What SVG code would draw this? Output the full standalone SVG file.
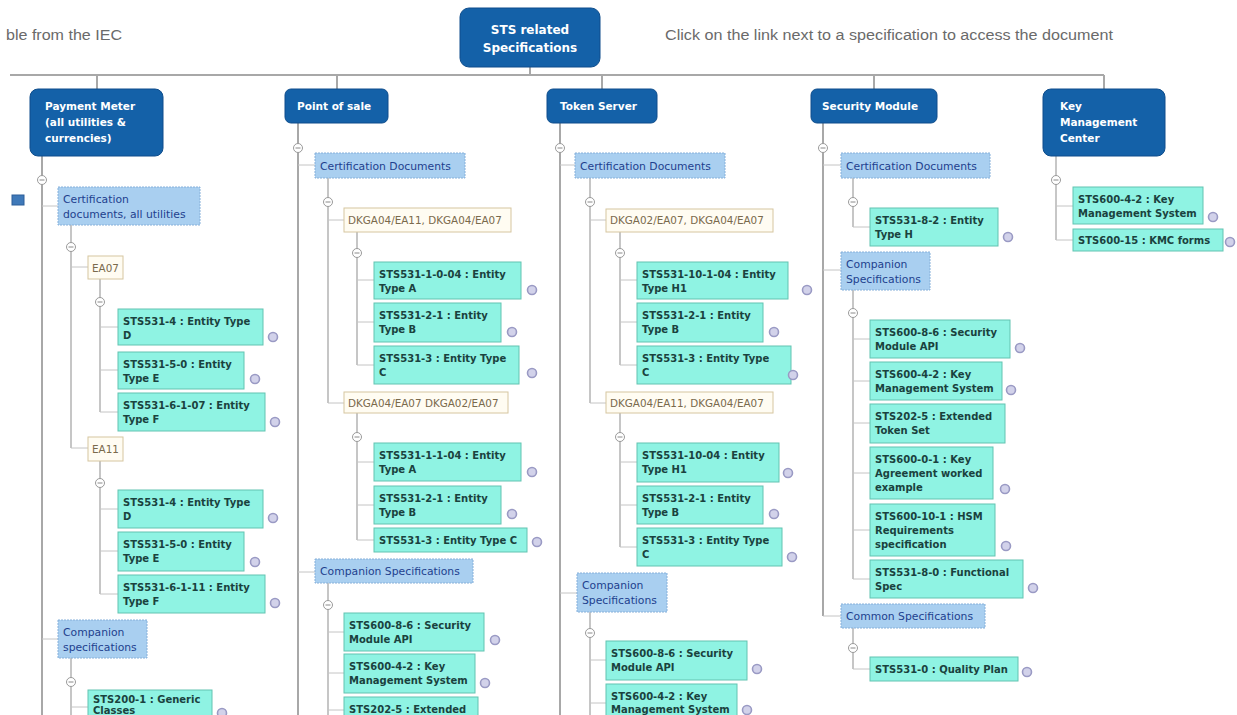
<svg xmlns="http://www.w3.org/2000/svg" width="1237" height="715" viewBox="0 0 1237 715">
<style>
text{font-family:"DejaVu Sans",Verdana,sans-serif}
.hdr{font-family:"Liberation Sans",Arial,sans-serif;font-size:14px;fill:#6a6a6a}
.top rect{fill:#1461a8;stroke:#0e4d8c;stroke-width:1}
.top text{fill:#fff;font-weight:bold;font-size:10.5px}
.cat rect{fill:#a9cff0;stroke:#86b0da;stroke-width:1;stroke-dasharray:2 1}
.cat text{fill:#1e3f8e;font-size:10.8px}
.grp rect{fill:#fffcf2;stroke:#d6c6a0;stroke-width:1}
.grp text{fill:#7a6a4c;font-size:10.4px}
.itm rect{fill:#8ff3e3;stroke:#63c3b1;stroke-width:1}
.itm text{fill:#1a423e;font-weight:bold;font-size:10px}
.lnk{fill:#d2d2ea;stroke:#9a9ac4;stroke-width:1.6}
.tog{fill:#fff;stroke:#9a9a9a;stroke-width:1}
.togl{stroke:#8a8a8a;stroke-width:1}
.main{stroke:#a8a8a8;stroke-width:2;fill:none}
.sub{stroke:#b4b4b4;stroke-width:1.5;fill:none}
.tick{stroke:#c4c4c4;stroke-width:1;fill:none}
</style>
<defs>
<g id="tg"><circle class="tog" r="4.5"/><path class="togl" d="M-2.5 0H2.5"/></g>
</defs>
<rect width="1237" height="715" fill="#fff"/>
<text class="hdr" x="6" y="40" textLength="116" lengthAdjust="spacingAndGlyphs">ble from the IEC</text>
<text class="hdr" x="665" y="40" textLength="448" lengthAdjust="spacingAndGlyphs">Click on the link next to a specification to access the document</text>

<g id="connectors">
<path class="main" d="M530 67V75M10 75H1104M97 75V90M337 75V89M602 75V89M874 75V89M1104 75V89"/>
<path class="main" d="M42 156V715"/>
<path class="tick" d="M42 206H58M42 639H58"/>
<path class="sub" d="M71 225V448M71 658V715"/>
<path class="tick" d="M71 267H88M71 448H88M71 707H88"/>
<path class="sub" d="M100 279V412M100 461V594"/>
<path class="tick" d="M100 327H118M100 370H118M100 412H118M100 509H118M100 551H118M100 594H118"/>
<path class="main" d="M298 123V715"/>
<path class="tick" d="M298 165H315M298 572H315"/>
<path class="sub" d="M328 178V403M328 583V715"/>
<path class="tick" d="M328 220H344M328 403H344M328 632H344M328 673H344M328 710H344"/>
<path class="sub" d="M357 232V365M357 413V540"/>
<path class="tick" d="M357 280H374M357 322H374M357 365H374M357 462H374M357 505H374M357 540H374"/>
<path class="main" d="M560 123V715"/>
<path class="tick" d="M560 165H575M560 593H577"/>
<path class="sub" d="M590 178V403M590 612V715"/>
<path class="tick" d="M590 220H606M590 403H606M590 660H606M590 703H606"/>
<path class="sub" d="M620 232V365M620 413V547"/>
<path class="tick" d="M620 280H637M620 322H637M620 365H637M620 462H637M620 505H637M620 547H637"/>
<path class="main" d="M823 123V616"/>
<path class="tick" d="M823 165H841M823 270H841M823 616H841"/>
<path class="sub" d="M853 178V227M853 290V579M853 628V669"/>
<path class="tick" d="M853 227H870M853 339H870M853 381H870M853 423H870M853 473H870M853 530H870M853 579H870M853 669H870"/>
<path class="sub" d="M1056 156V240"/>
<path class="tick" d="M1056 206H1073M1056 240H1073"/>
<use href="#tg" x="42" y="180"/><use href="#tg" x="71" y="247"/><use href="#tg" x="100" y="302"/><use href="#tg" x="100" y="483"/><use href="#tg" x="71" y="682"/>
<use href="#tg" x="298" y="148"/><use href="#tg" x="328" y="202"/><use href="#tg" x="357" y="253"/><use href="#tg" x="357" y="437"/><use href="#tg" x="328" y="605"/>
<use href="#tg" x="560" y="148"/><use href="#tg" x="590" y="202"/><use href="#tg" x="620" y="253"/><use href="#tg" x="620" y="437"/><use href="#tg" x="590" y="633"/>
<use href="#tg" x="823" y="148"/><use href="#tg" x="853" y="202"/><use href="#tg" x="853" y="313"/><use href="#tg" x="853" y="648"/>
<use href="#tg" x="1056" y="180"/>
</g>

<rect x="12" y="195" width="12" height="10" fill="#3f79b9" stroke="#2d5f99"/>

<g id="root" class="top"><rect x="460" y="8" width="140" height="59" rx="9"/><text x="530" y="34" text-anchor="middle" style="font-size:12px">STS related</text><text x="530" y="52" text-anchor="middle" style="font-size:12px">Specifications</text></g>

<g id="payment-meter" class="top"><rect x="30" y="89" width="133" height="67" rx="8"/><text x="45" y="110">Payment Meter</text><text x="45" y="126">(all utilities &amp;</text><text x="45" y="142">currencies)</text></g>
<g id="point-of-sale" class="top"><rect x="285" y="89" width="103" height="34" rx="6"/><text x="297" y="110">Point of sale</text></g>
<g id="token-server" class="top"><rect x="547" y="89" width="110" height="34" rx="6"/><text x="560" y="110">Token Server</text></g>
<g id="security-module" class="top"><rect x="811" y="89" width="126" height="34" rx="6"/><text x="822" y="110">Security Module</text></g>
<g id="kmc" class="top"><rect x="1043" y="89" width="122" height="67" rx="8"/><text x="1060" y="110">Key</text><text x="1060" y="126">Management</text><text x="1060" y="142">Center</text></g>

<g id="c1-cert" class="cat"><rect x="58" y="187" width="142" height="38"/><text x="63" y="203">Certification</text><text x="63" y="218">documents, all utilities</text></g>
<g id="c1-ea07" class="grp"><rect x="88" y="256" width="35" height="23"/><text x="92" y="272">EA07</text></g>
<g id="c1-i1" class="itm"><rect x="118" y="309" width="145" height="36"/><text x="123" y="325">STS531-4 : Entity Type</text><text x="123" y="339">D</text><circle class="lnk" cx="273" cy="337" r="4.5"/></g>
<g id="c1-i2" class="itm"><rect x="118" y="352" width="126" height="37"/><text x="123" y="368">STS531-5-0 : Entity</text><text x="123" y="382">Type E</text><circle class="lnk" cx="255" cy="379" r="4.5"/></g>
<g id="c1-i3" class="itm"><rect x="118" y="393" width="147" height="38"/><text x="123" y="409">STS531-6-1-07 : Entity</text><text x="123" y="423">Type F</text><circle class="lnk" cx="275" cy="422" r="4.5"/></g>
<g id="c1-ea11" class="grp"><rect x="88" y="437" width="35" height="24"/><text x="92" y="453">EA11</text></g>
<g id="c1-i4" class="itm"><rect x="118" y="490" width="145" height="38"/><text x="123" y="506">STS531-4 : Entity Type</text><text x="123" y="520">D</text><circle class="lnk" cx="273" cy="518" r="4.5"/></g>
<g id="c1-i5" class="itm"><rect x="118" y="532" width="126" height="39"/><text x="123" y="548">STS531-5-0 : Entity</text><text x="123" y="562">Type E</text><circle class="lnk" cx="255" cy="562" r="4.5"/></g>
<g id="c1-i6" class="itm"><rect x="118" y="575" width="147" height="38"/><text x="123" y="591">STS531-6-1-11 : Entity</text><text x="123" y="605">Type F</text><circle class="lnk" cx="275" cy="603" r="4.5"/></g>
<g id="c1-comp" class="cat"><rect x="58" y="620" width="89" height="38"/><text x="63" y="636">Companion</text><text x="63" y="651">specifications</text></g>
<g id="c1-i7" class="itm"><rect x="88" y="690" width="124" height="40"/><text x="93" y="703">STS200-1 : Generic</text><text x="93" y="714">Classes</text><circle class="lnk" cx="222" cy="713" r="4.5"/></g>

<g id="c2-cert" class="cat"><rect x="315" y="153" width="150" height="25"/><text x="320" y="170">Certification Documents</text></g>
<g id="c2-dk1" class="grp"><rect x="344" y="208" width="167" height="24"/><text x="348" y="224">DKGA04/EA11, DKGA04/EA07</text></g>
<g id="c2-i1" class="itm"><rect x="374" y="262" width="147" height="37"/><text x="379" y="278">STS531-1-0-04 : Entity</text><text x="379" y="292">Type A</text><circle class="lnk" cx="532" cy="290" r="4.5"/></g>
<g id="c2-i2" class="itm"><rect x="374" y="303" width="127" height="39"/><text x="379" y="319">STS531-2-1 : Entity</text><text x="379" y="333">Type B</text><circle class="lnk" cx="512" cy="332" r="4.5"/></g>
<g id="c2-i3" class="itm"><rect x="374" y="346" width="145" height="38"/><text x="379" y="362">STS531-3 : Entity Type</text><text x="379" y="376">C</text><circle class="lnk" cx="532" cy="373" r="4.5"/></g>
<g id="c2-dk2" class="grp"><rect x="344" y="392" width="164" height="21"/><text x="348" y="407">DKGA04/EA07 DKGA02/EA07</text></g>
<g id="c2-i4" class="itm"><rect x="374" y="443" width="147" height="38"/><text x="379" y="459">STS531-1-1-04 : Entity</text><text x="379" y="473">Type A</text><circle class="lnk" cx="532" cy="472" r="4.5"/></g>
<g id="c2-i5" class="itm"><rect x="374" y="486" width="127" height="38"/><text x="379" y="502">STS531-2-1 : Entity</text><text x="379" y="516">Type B</text><circle class="lnk" cx="512" cy="514" r="4.5"/></g>
<g id="c2-i6" class="itm"><rect x="374" y="528" width="153" height="24"/><text x="379" y="544">STS531-3 : Entity Type C</text><circle class="lnk" cx="537" cy="542" r="4.5"/></g>
<g id="c2-comp" class="cat"><rect x="315" y="559" width="158" height="24"/><text x="320" y="575">Companion Specifications</text></g>
<g id="c2-i7" class="itm"><rect x="344" y="613" width="140" height="38"/><text x="349" y="629">STS600-8-6 : Security</text><text x="349" y="643">Module API</text><circle class="lnk" cx="495" cy="640" r="4.5"/></g>
<g id="c2-i8" class="itm"><rect x="344" y="654" width="131" height="39"/><text x="349" y="670">STS600-4-2 : Key</text><text x="349" y="684">Management System</text><circle class="lnk" cx="485" cy="683" r="4.5"/></g>
<g id="c2-i9" class="itm"><rect x="344" y="697" width="134" height="30"/><text x="349" y="713">STS202-5 : Extended</text></g>

<g id="c3-cert" class="cat"><rect x="575" y="153" width="150" height="25"/><text x="580" y="170">Certification Documents</text></g>
<g id="c3-dk1" class="grp"><rect x="606" y="209" width="167" height="23"/><text x="610" y="224">DKGA02/EA07, DKGA04/EA07</text></g>
<g id="c3-i1" class="itm"><rect x="637" y="262" width="151" height="37"/><text x="642" y="278">STS531-10-1-04 : Entity</text><text x="642" y="292">Type H1</text><circle class="lnk" cx="807" cy="290" r="4.5"/></g>
<g id="c3-i2" class="itm"><rect x="637" y="303" width="126" height="39"/><text x="642" y="319">STS531-2-1 : Entity</text><text x="642" y="333">Type B</text><circle class="lnk" cx="774" cy="332" r="4.5"/></g>
<g id="c3-i3" class="itm"><rect x="637" y="346" width="154" height="38"/><text x="642" y="362">STS531-3 : Entity Type</text><text x="642" y="376">C</text><circle class="lnk" cx="793" cy="375" r="4.5"/></g>
<g id="c3-dk2" class="grp"><rect x="606" y="392" width="167" height="21"/><text x="610" y="407">DKGA04/EA11, DKGA04/EA07</text></g>
<g id="c3-i4" class="itm"><rect x="637" y="443" width="142" height="39"/><text x="642" y="459">STS531-10-04 : Entity</text><text x="642" y="473">Type H1</text><circle class="lnk" cx="788" cy="473" r="4.5"/></g>
<g id="c3-i5" class="itm"><rect x="637" y="486" width="126" height="38"/><text x="642" y="502">STS531-2-1 : Entity</text><text x="642" y="516">Type B</text><circle class="lnk" cx="774" cy="514" r="4.5"/></g>
<g id="c3-i6" class="itm"><rect x="637" y="528" width="145" height="38"/><text x="642" y="544">STS531-3 : Entity Type</text><text x="642" y="558">C</text><circle class="lnk" cx="792" cy="557" r="4.5"/></g>
<g id="c3-comp" class="cat"><rect x="577" y="573" width="90" height="39"/><text x="582" y="589">Companion</text><text x="582" y="604">Specifications</text></g>
<g id="c3-i7" class="itm"><rect x="606" y="641" width="141" height="39"/><text x="611" y="657">STS600-8-6 : Security</text><text x="611" y="671">Module API</text><circle class="lnk" cx="757" cy="669" r="4.5"/></g>
<g id="c3-i8" class="itm"><rect x="606" y="684" width="131" height="39"/><text x="611" y="700">STS600-4-2 : Key</text><text x="611" y="713">Management System</text><circle class="lnk" cx="747" cy="710" r="4.5"/></g>

<g id="c4-cert" class="cat"><rect x="841" y="153" width="149" height="25"/><text x="846" y="170">Certification Documents</text></g>
<g id="c4-i1" class="itm"><rect x="870" y="208" width="128" height="38"/><text x="875" y="224">STS531-8-2 : Entity</text><text x="875" y="238">Type H</text><circle class="lnk" cx="1008" cy="237" r="4.5"/></g>
<g id="c4-comp" class="cat"><rect x="841" y="252" width="89" height="38"/><text x="846" y="268">Companion</text><text x="846" y="283">Specifications</text></g>
<g id="c4-i2" class="itm"><rect x="870" y="320" width="140" height="38"/><text x="875" y="336">STS600-8-6 : Security</text><text x="875" y="350">Module API</text><circle class="lnk" cx="1020" cy="348" r="4.5"/></g>
<g id="c4-i3" class="itm"><rect x="870" y="362" width="132" height="38"/><text x="875" y="378">STS600-4-2 : Key</text><text x="875" y="392">Management System</text><circle class="lnk" cx="1011" cy="390" r="4.5"/></g>
<g id="c4-i4" class="itm"><rect x="870" y="404" width="135" height="39"/><text x="875" y="420">STS202-5 : Extended</text><text x="875" y="434">Token Set</text></g>
<g id="c4-i5" class="itm"><rect x="870" y="447" width="123" height="52"/><text x="875" y="463">STS600-0-1 : Key</text><text x="875" y="477">Agreement worked</text><text x="875" y="491">example</text><circle class="lnk" cx="1005" cy="489" r="4.5"/></g>
<g id="c4-i6" class="itm"><rect x="870" y="504" width="125" height="52"/><text x="875" y="520">STS600-10-1 : HSM</text><text x="875" y="534">Requirements</text><text x="875" y="548">specification</text><circle class="lnk" cx="1006" cy="546" r="4.5"/></g>
<g id="c4-i7" class="itm"><rect x="870" y="560" width="153" height="38"/><text x="875" y="576">STS531-8-0 : Functional</text><text x="875" y="590">Spec</text><circle class="lnk" cx="1033" cy="588" r="4.5"/></g>
<g id="c4-common" class="cat"><rect x="841" y="604" width="144" height="24"/><text x="846" y="620">Common Specifications</text></g>
<g id="c4-i8" class="itm"><rect x="870" y="657" width="148" height="24"/><text x="875" y="673">STS531-0 : Quality Plan</text><circle class="lnk" cx="1027" cy="672" r="4.5"/></g>

<g id="c5-i1" class="itm"><rect x="1073" y="187" width="130" height="37"/><text x="1078" y="203">STS600-4-2 : Key</text><text x="1078" y="217">Management System</text><circle class="lnk" cx="1213" cy="217" r="4.5"/></g>
<g id="c5-i2" class="itm"><rect x="1073" y="229" width="150" height="22"/><text x="1078" y="244">STS600-15 : KMC forms</text><circle class="lnk" cx="1230" cy="242" r="4.5"/></g>
</svg>
